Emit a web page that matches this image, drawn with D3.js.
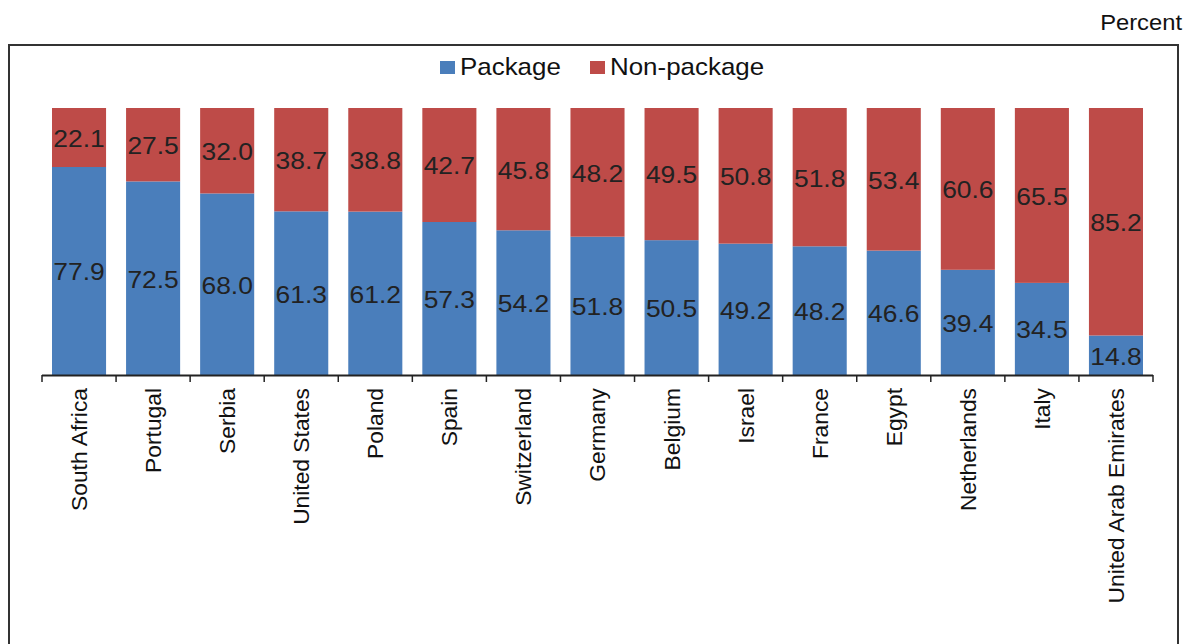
<!DOCTYPE html>
<html lang="en">
<head>
<meta charset="UTF-8">
<title>Package vs non-package</title>
<script src="https://cdn.jsdelivr.net/npm/d3@7"></script>
<style>
  body { margin: 0; background: #fff; }
  text { font-family: "Liberation Sans", Arial, Helvetica, sans-serif; }
</style>
</head>
<body>
<svg id="chart" width="1192" height="644"></svg>
<script>
const countries = ["South Africa", "Portugal", "Serbia", "United States", "Poland", "Spain",
  "Switzerland", "Germany", "Belgium", "Israel", "France", "Egypt", "Netherlands", "Italy",
  "United Arab Emirates"];
const packageVals = [77.9, 72.5, 68.0, 61.3, 61.2, 57.3, 54.2, 51.8, 50.5, 49.2, 48.2, 46.6, 39.4, 34.5, 14.8];
const nonPackageVals = [22.1, 27.5, 32.0, 38.7, 38.8, 42.7, 45.8, 48.2, 49.5, 50.8, 51.8, 53.4, 60.6, 65.5, 85.2];
const seriesNames = ["Package", "Non-package"];
const colors = ["#4a7ebb", "#be4b48"];

const svg = d3.select("#chart");

// frame
svg.append("rect")
  .attr("x", 9).attr("y", 45).attr("width", 1169).attr("height", 640)
  .attr("fill", "none").attr("stroke", "#333").attr("stroke-width", 2);

// text in the original is a little wider than tall
svg.append("text")
  .attr("transform", "translate(1182,30) scale(1.08,1)")
  .attr("text-anchor", "end")
  .attr("font-size", 22).attr("fill", "#111").text("Percent");

const x = d3.scaleBand().domain(countries).range([42, 1153]).paddingInner(0.27).paddingOuter(0.135);
const y = d3.scaleLinear().domain([0, 100]).range([375, 108]);

const rows = countries.map((c, i) => ({ c, p: packageVals[i], n: nonPackageVals[i] }));

const g = svg.append("g");
// package
g.selectAll(".pk").data(rows).join("rect")
  .attr("x", d => x(d.c)).attr("width", x.bandwidth())
  .attr("y", d => y(d.p)).attr("height", d => y(0) - y(d.p))
  .attr("fill", colors[0]);
// non-package
g.selectAll(".np").data(rows).join("rect")
  .attr("x", d => x(d.c)).attr("width", x.bandwidth())
  .attr("y", d => y(d.p + d.n)).attr("height", d => y(d.p) - y(d.p + d.n))
  .attr("fill", colors[1]);

// value labels
g.selectAll(".lp").data(rows).join("text")
  .attr("transform", d => `translate(${x(d.c) + x.bandwidth() / 2},${(y(0) + y(d.p)) / 2 + 1}) scale(1.1,1)`)
  .attr("dy", "0.35em").attr("text-anchor", "middle")
  .attr("font-size", 24).attr("fill", "#222")
  .text(d => d.p.toFixed(1));
g.selectAll(".ln").data(rows).join("text")
  .attr("transform", d => `translate(${x(d.c) + x.bandwidth() / 2},${(y(d.p) + y(d.p + d.n)) / 2 + 1}) scale(1.1,1)`)
  .attr("dy", "0.35em").attr("text-anchor", "middle")
  .attr("font-size", 24).attr("fill", "#222")
  .text(d => d.n.toFixed(1));

// x axis with ticks on band boundaries
const step = x.step();
const axis = svg.append("g");
axis.append("line")
  .attr("x1", 42).attr("x2", 1153).attr("y1", 375.5).attr("y2", 375.5)
  .attr("stroke", "#222").attr("stroke-width", 2);
axis.selectAll(".tk").data(d3.range(countries.length + 1)).join("line")
  .attr("x1", i => 42 + i * step).attr("x2", i => 42 + i * step)
  .attr("y1", 375).attr("y2", 382)
  .attr("stroke", "#222").attr("stroke-width", 1.5);
axis.selectAll(".cl").data(countries).join("text")
  .attr("transform", d => `translate(${x(d) + x.bandwidth() / 2},388) rotate(-90)`)
  .attr("text-anchor", "end").attr("dy", "0.35em")
  .attr("font-size", 22.8).attr("fill", "#111")
  .text(d => d);

// legend
const leg = svg.append("g");
const legX = [440, 590];
seriesNames.forEach((s, i) => {
  leg.append("rect").attr("x", legX[i]).attr("y", 61).attr("width", 15).attr("height", 13).attr("fill", colors[i]);
  leg.append("text").attr("transform", `translate(${legX[i] + 20},75) scale(1.08,1)`)
    .attr("font-size", 24).attr("fill", "#111").text(s);
});
</script>
</body>
</html>
